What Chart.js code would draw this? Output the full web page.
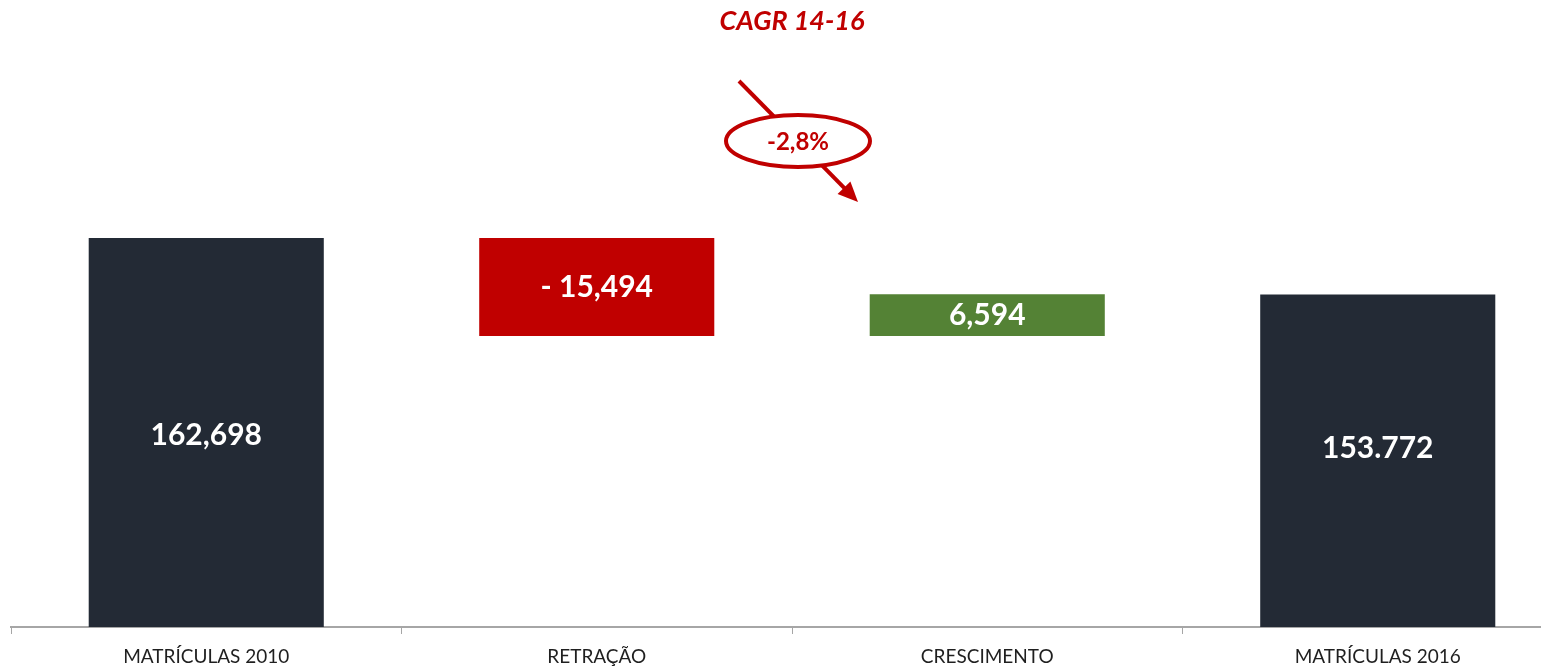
<!DOCTYPE html>
<html lang="pt">
<head>
  <meta charset="UTF-8">
  <title>Matrículas 2010 - 2016</title>
  <style>
    html, body { margin: 0; padding: 0; background: #fff; overflow: hidden; }
    #wrap { width: 1575px; height: 666px; }
  </style>
</head>
<body>
<div id="wrap"><canvas id="wf" width="1575" height="666"></canvas></div>

<script src="https://cdn.jsdelivr.net/npm/chart.js"></script>
<script>
  // categories and values
  const categories = ['MATRÍCULAS 2010', 'RETRAÇÃO', 'CRESCIMENTO', 'MATRÍCULAS 2016'];
  const startTotal = 162698;
  const steps = [-15494, 6594];
  const endTotal = 153772;
  const valueLabels = ['162,698', '- 15,494', '6,594', '153.772'];
  const barColors = ['#232a35', '#c00000', '#548235', '#232a35'];

  const cagrTitle = 'CAGR 14-16';
  const cagrValue = '-2,8%';

  // build waterfall: totals are plain bars, steps float
  let running = startTotal;
  const barData = [startTotal];
  const ranges = [[null, startTotal]];
  steps.forEach(s => {
    const next = running + s;
    barData.push([Math.min(running, next), Math.max(running, next)]);
    ranges.push([Math.min(running, next), Math.max(running, next)]);
    running = next;
  });
  barData.push(endTotal);
  ranges.push([null, endTotal]);

  const red = '#c00000';

  const labelsPlugin = {
    id: 'labels',
    afterDatasetsDraw(chart) {
      const ctx = chart.ctx;
      const meta = chart.getDatasetMeta(0);
      const ys = chart.scales.y;
      ctx.save();
      ctx.fillStyle = '#fff';
      ctx.textAlign = 'center';
      ctx.textBaseline = 'middle';
      meta.data.forEach((bar, i) => {
        const lo = ranges[i][0] === null ? ys.min : ranges[i][0];
        let y = (ys.getPixelForValue(lo) + ys.getPixelForValue(ranges[i][1])) / 2;
        if (i === 0) y += 3;
        if (i === 3) y -= 12;
        ctx.font = 'bold 30px Lato';
        ctx.fillText(valueLabels[i], bar.x, y);
      });
      ctx.restore();
    },
    afterDraw(chart) {
      const ctx = chart.ctx;
      ctx.save();
      // title
      ctx.fillStyle = red;
      ctx.font = 'italic bold 27px Lato';
      ctx.textAlign = 'center';
      ctx.textBaseline = 'middle';
      ctx.fillText(cagrTitle, 792, 21);

      // arrow
      const x0 = 739, y0 = 81, x1 = 858, y1 = 202;
      const ang = Math.atan2(y1 - y0, x1 - x0);
      ctx.strokeStyle = red;
      ctx.lineWidth = 4;
      ctx.beginPath();
      ctx.moveTo(x0, y0);
      ctx.lineTo(x1 - 12 * Math.cos(ang), y1 - 12 * Math.sin(ang));
      ctx.stroke();
      ctx.fillStyle = red;
      ctx.beginPath();
      ctx.moveTo(x1, y1);
      ctx.lineTo(x1 - 20 * Math.cos(ang) + 9 * Math.sin(ang), y1 - 20 * Math.sin(ang) - 9 * Math.cos(ang));
      ctx.lineTo(x1 - 20 * Math.cos(ang) - 9 * Math.sin(ang), y1 - 20 * Math.sin(ang) + 9 * Math.cos(ang));
      ctx.closePath();
      ctx.fill();

      // ellipse
      ctx.beginPath();
      ctx.ellipse(798, 141, 72, 26, 0, 0, Math.PI * 2);
      ctx.fillStyle = '#fff';
      ctx.fill();
      ctx.lineWidth = 4;
      ctx.stroke();
      ctx.fillStyle = red;
      ctx.font = 'bold 24px Lato';
      ctx.fillText(cagrValue, 798, 142);
      ctx.restore();
    }
  };

  new Chart(document.getElementById('wf'), {
    type: 'bar',
    data: {
      labels: categories,
      datasets: [{
        data: barData,
        backgroundColor: barColors,
        borderWidth: 0,
        categoryPercentage: 1,
        barPercentage: 0.602
      }]
    },
    options: {
      responsive: false,
      animation: false,
      layout: { padding: { left: 11, right: 2, top: 0, bottom: 0 } },
      plugins: { legend: { display: false }, tooltip: { enabled: false } },
      scales: {
        y: {
          display: false,
          min: 101200,
          max: 200300
        },
        x: {
          afterFit(s) { s.height = 39; },
          border: { display: true, color: '#a6a6a6', width: 2 },
          grid: { display: true, drawOnChartArea: false, drawTicks: true, tickLength: 7, color: '#a6a6a6', lineWidth: 1 },
          ticks: { color: '#1f1f1f', font: { family: 'Lato', size: 19 }, padding: 11 }
        }
      }
    },
    plugins: [labelsPlugin]
  });
</script>
</body>
</html>
